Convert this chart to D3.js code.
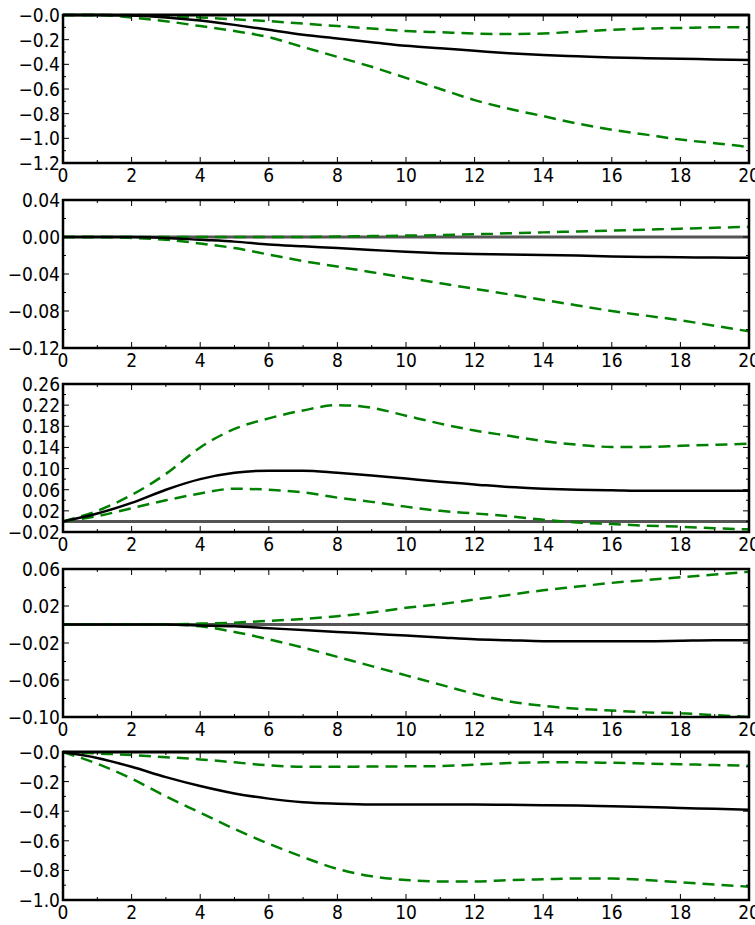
<!DOCTYPE html>
<html>
<head>
<meta charset="utf-8" />
<script src="https://d3js.org/d3.v7.min.js"></script>
<style>
  body { margin: 0; background: #fff; }
  text { font-family: "DejaVu Sans Condensed", "Liberation Sans Narrow", sans-serif; }
</style>
</head>
<body>
<script>
const horizon = d3.range(0, 21);

const mean1 = [0,0,-0.005,-0.02,-0.045,-0.08,-0.12,-0.16,-0.19,-0.22,-0.25,-0.27,-0.29,-0.31,-0.325,-0.335,-0.345,-0.35,-0.355,-0.36,-0.365];
const upper1 = [0,0,0,-0.01,-0.02,-0.035,-0.05,-0.07,-0.09,-0.11,-0.13,-0.14,-0.15,-0.155,-0.15,-0.135,-0.12,-0.11,-0.105,-0.1,-0.1];
const lower1 = [0,0,-0.02,-0.05,-0.09,-0.13,-0.18,-0.26,-0.34,-0.42,-0.51,-0.6,-0.69,-0.76,-0.82,-0.88,-0.93,-0.97,-1.01,-1.04,-1.07];

const mean2 = [0,0,0,-0.001,-0.003,-0.005,-0.008,-0.01,-0.012,-0.014,-0.016,-0.0175,-0.0185,-0.019,-0.0195,-0.02,-0.021,-0.0215,-0.022,-0.0222,-0.0225];
const upper2 = [0,0,0,0,0,0,0,0,0.0005,0.001,0.0015,0.002,0.003,0.004,0.005,0.006,0.007,0.008,0.009,0.01,0.011];
const lower2 = [0,0,-0.001,-0.003,-0.007,-0.012,-0.019,-0.026,-0.032,-0.038,-0.044,-0.05,-0.056,-0.062,-0.068,-0.074,-0.08,-0.085,-0.09,-0.096,-0.102];

const mean3 = [0,0.015,0.035,0.06,0.08,0.092,0.096,0.096,0.092,0.087,0.081,0.075,0.07,0.065,0.062,0.06,0.059,0.058,0.058,0.058,0.058];
const upper3 = [0,0.02,0.05,0.09,0.14,0.175,0.195,0.21,0.22,0.215,0.2,0.185,0.172,0.162,0.152,0.145,0.141,0.141,0.143,0.145,0.147];
const lower3 = [0,0.01,0.025,0.04,0.053,0.062,0.06,0.055,0.045,0.037,0.028,0.02,0.015,0.01,0.003,-0.002,-0.005,-0.008,-0.01,-0.013,-0.015];

const mean4 = [0,0,0,0,-0.001,-0.002,-0.004,-0.006,-0.008,-0.01,-0.012,-0.014,-0.016,-0.017,-0.018,-0.018,-0.018,-0.018,-0.0175,-0.017,-0.017];
const upper4 = [0,0,0,0,0.001,0.002,0.004,0.006,0.009,0.013,0.018,0.022,0.027,0.032,0.037,0.041,0.045,0.048,0.051,0.054,0.057];
const lower4 = [0,0,0,0,-0.002,-0.008,-0.016,-0.025,-0.035,-0.045,-0.055,-0.065,-0.075,-0.083,-0.088,-0.091,-0.093,-0.095,-0.096,-0.098,-0.1];

const mean5 = [0,-0.04,-0.1,-0.17,-0.23,-0.28,-0.315,-0.34,-0.35,-0.355,-0.355,-0.355,-0.355,-0.357,-0.36,-0.362,-0.367,-0.372,-0.378,-0.384,-0.39];
const upper5 = [0,-0.01,-0.02,-0.035,-0.05,-0.07,-0.09,-0.1,-0.1,-0.098,-0.097,-0.095,-0.085,-0.075,-0.07,-0.07,-0.073,-0.078,-0.083,-0.088,-0.093];
const lower5 = [0,-0.08,-0.18,-0.3,-0.41,-0.52,-0.62,-0.71,-0.79,-0.84,-0.865,-0.875,-0.875,-0.865,-0.86,-0.855,-0.855,-0.865,-0.88,-0.895,-0.91];

// y domains and tick values per panel
const yDomains = [[-1.2, 0], [-0.12, 0.04], [-0.02, 0.26], [-0.10, 0.06], [-1.0, 0]];
const yTicks = [
  [-1.2,-1.0,-0.8,-0.6,-0.4,-0.2,0],
  [-0.12,-0.08,-0.04,0,0.04],
  [-0.02,0.02,0.06,0.10,0.14,0.18,0.22,0.26],
  [-0.10,-0.06,-0.02,0.02,0.06],
  [-1.0,-0.8,-0.6,-0.4,-0.2,0]
];
const yDigits = [1, 2, 2, 2, 1];
const xTicks = [0,2,4,6,8,10,12,14,16,18,20];

const panels = [
  [mean1, upper1, lower1], [mean2, upper2, lower2], [mean3, upper3, lower3],
  [mean4, upper4, lower4], [mean5, upper5, lower5]
];

const W = 755, H = 925;
const left = 63, right = 749;
const tops = [15, 200, 384, 569, 752];
const ph = 148;

const svg = d3.select("body").append("svg").attr("width", W).attr("height", H);
const x = d3.scaleLinear().domain([0, 20]).range([left, right]);

panels.forEach((series, i) => {
  const top = tops[i], bottom = top + ph;
  const y = d3.scaleLinear().domain(yDomains[i]).range([bottom, top]);
  const g = svg.append("g");
  const line = d3.line().curve(d3.curveMonotoneX).x((d, k) => x(horizon[k])).y(d => y(d));

  // zero line
  g.append("line").attr("x1", left).attr("x2", right).attr("y1", y(0)).attr("y2", y(0))
    .attr("stroke", "#555").attr("stroke-width", 3);

  [series[1], series[2]].forEach(s => {
    g.append("path").datum(s).attr("d", line).attr("fill", "none")
      .attr("stroke", "#008000").attr("stroke-width", 2.5).attr("stroke-dasharray", "12,7");
  });
  g.append("path").datum(series[0]).attr("d", line).attr("fill", "none")
    .attr("stroke", "#000").attr("stroke-width", 2.5);

  // ticks inside the frame
  horizon.forEach(v => {
    const len = v % 2 === 0 ? 6 : 3;
    g.append("line").attr("x1", x(v)).attr("x2", x(v)).attr("y1", bottom).attr("y2", bottom - len).attr("stroke", "#000");
    g.append("line").attr("x1", x(v)).attr("x2", x(v)).attr("y1", top).attr("y2", top + len).attr("stroke", "#000");
  });
  const t = yTicks[i];
  const step = t[1] - t[0];
  const minors = d3.range(t[0], yDomains[i][1] + 1e-9, step / 2);
  minors.forEach((v, k) => {
    const len = k % 2 === 0 ? 6 : 3;
    g.append("line").attr("x1", left).attr("x2", left + len).attr("y1", y(v)).attr("y2", y(v)).attr("stroke", "#000");
    g.append("line").attr("x1", right).attr("x2", right - len).attr("y1", y(v)).attr("y2", y(v)).attr("stroke", "#000");
  });

  // frame
  g.append("rect").attr("x", left).attr("y", top).attr("width", right - left).attr("height", ph)
    .attr("fill", "none").attr("stroke", "#000").attr("stroke-width", 2.5);

  // y labels
  t.forEach(v => {
    let s = Math.abs(v).toFixed(yDigits[i]);
    if (v < 0 || (v === 0 && (i === 0 || i === 4))) s = "\u2212" + s;
    g.append("text").attr("x", left - 3).attr("y", y(v) + 7).attr("text-anchor", "end")
      .attr("font-size", 19).text(s);
  });
  // x labels
  xTicks.forEach(v => {
    g.append("text").attr("x", x(v)).attr("y", bottom + 19).attr("text-anchor", "middle")
      .attr("font-size", 19).text(v);
  });
});
</script>
</body>
</html>
